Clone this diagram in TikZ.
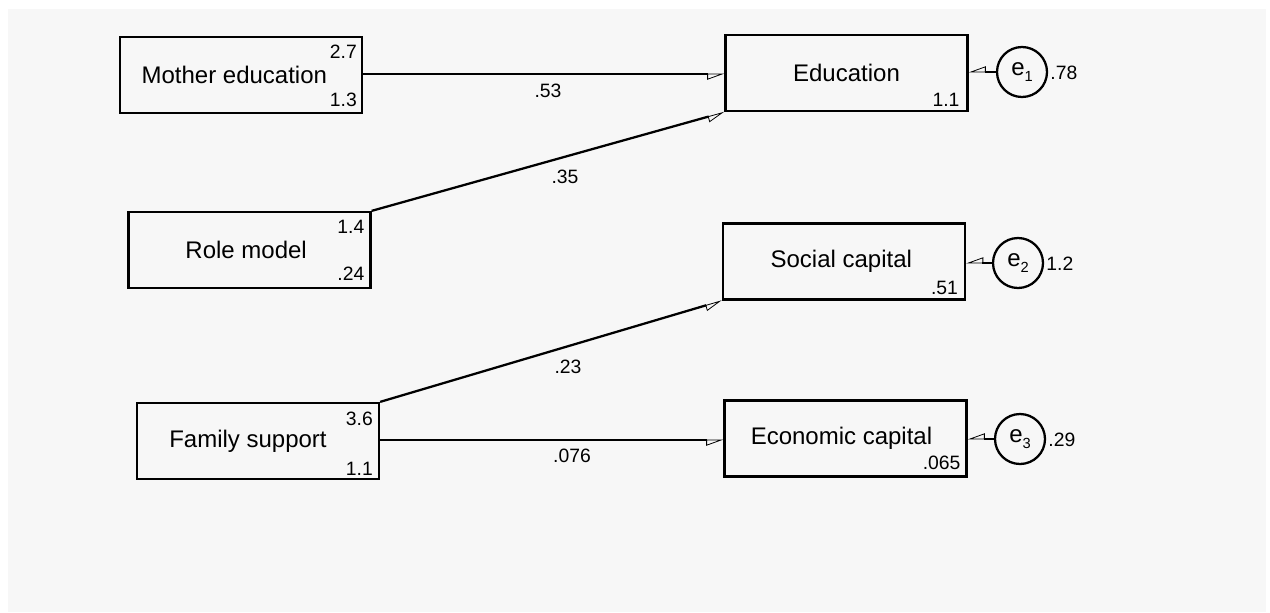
\documentclass[tikz,border=0pt]{standalone}
\usepackage{fontspec}
\setmainfont{Liberation Sans}
\usetikzlibrary{calc,arrows.meta}
\definecolor{bgcolor}{HTML}{F7F7F7}
\newcommand{\errsub}[1]{\raisebox{-4pt}{\fontsize{11}{12}\selectfont #1}}

\begin{document}
\begin{tikzpicture}[x=0.75pt,y=-0.75pt,
  var/.style={draw, line width=1.7pt, minimum width=181.5pt, minimum height=57pt, inner sep=0pt, font=\fontsize{18}{20}\selectfont},
  err/.style={draw, circle, line width=1.7pt, minimum size=37.5pt, inner sep=0pt, font=\fontsize{18}{20}\selectfont},
  num/.style={inner sep=0pt, font=\fontsize{14.5}{16}\selectfont},
  reg/.style={line width=1.7pt, -{Triangle[open,right,length=12pt,width=8.5pt,line width=0.6pt]}}]
  % background
  \useasboundingbox (0,0) rectangle (1270,612);
  \fill[bgcolor] (8,9) rectangle (1266,612);
  % exogenous variables
  \node[var] (medu) at (241,75) {\raisebox{-2pt}{Mother education}\hspace*{10pt}};
  \node[var] (role) at (249.5,250) {Role model\hspace*{5pt}};
  \node[var] (famsup) at (258,441) {Family support\hspace*{15pt}};
  \node[num, anchor=east] (medu-m) at ($(medu.north east)+(-6,16)$) {2.7};
  \node[num, anchor=east] (medu-v) at ($(medu.south east)+(-6,-14)$) {1.3};
  \node[num, anchor=east] (role-m) at ($(role.north east)+(-7,16)$) {1.4};
  \node[num, anchor=east] (role-v) at ($(role.south east)+(-7,-15)$) {.24};
  \node[num, anchor=east] (famsup-m) at ($(famsup.north east)+(-7,17)$) {3.6};
  \node[num, anchor=east] (famsup-v) at ($(famsup.south east)+(-7,-11)$) {1.1};
  % endogenous variables
  \node[var] (edu) at (846.5,73) {Education};
  \node[var] (social) at (844,261.5) {\raisebox{-1pt}{Social capital}\hspace*{4pt}};
  \node[var] (econ) at (845.5,438.5) {\raisebox{-1pt}{Economic capital}\hspace*{6pt}};
  \node[num, anchor=east] (edu-i) at ($(edu.south east)+(-9,-12)$) {1.1};
  \node[num, anchor=east] (social-i) at ($(social.south east)+(-8,-13)$) {.51};
  \node[num, anchor=east] (econ-i) at ($(econ.south east)+(-7,-15)$) {.065};
  % errors
  \node[err] (e1) at (1022,72) {e\errsub{1}};
  \node[err] (e2) at (1018,263) {e\errsub{2}};
  \node[err] (e3) at (1020,439) {e\errsub{3}};
  \node[num, anchor=west] (e1-v) at ($(e1.east)+(2,1)$) {.78};
  \node[num, anchor=west] (e2-v) at ($(e2.east)+(2,1)$) {1.2};
  \node[num, anchor=west] (e3-v) at ($(e3.east)+(2,1)$) {.29};
  % paths
  \draw[reg] (medu.east |- 0,74) -- (edu.west |- 0,74);
  \draw[reg] (role.north east) -- (edu.south west);
  \draw[reg] (famsup.north east) -- (social.south west);
  \draw[reg] (famsup.east |- 0,440) -- (econ.west |- 0,440);
  \draw[reg] (e1) -- (edu.east |- e1);
  \draw[reg] (e2) -- (social.east |- e2);
  \draw[reg] (e3) -- (econ.east |- e3);
  \node[num] (b1) at (548,91) {.53};
  \node[num] (b2) at (565,177) {.35};
  \node[num] (b3) at (568,367) {.23};
  \node[num] (b4) at (572,456) {.076};
\end{tikzpicture}
\end{document}
